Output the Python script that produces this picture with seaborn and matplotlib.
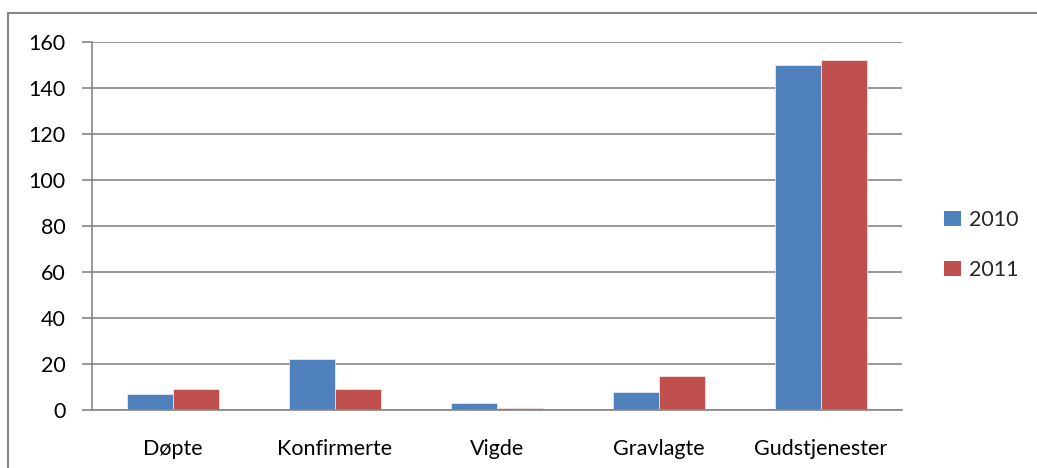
import matplotlib
matplotlib.use("Agg")
import matplotlib.pyplot as plt
import numpy as np
import pandas as pd
import seaborn as sns
from matplotlib.lines import Line2D
from matplotlib.patches import Patch

# data
categories = ["Døpte", "Konfirmerte", "Vigde", "Gravlagte", "Gudstjenester"]
years = ["2010", "2011"]
values_2010 = [7, 22, 3, 8, 150]
values_2011 = [9, 9, 1, 15, 152]
y_ticks = [0, 20, 40, 60, 80, 100, 120, 140, 160]

colors = ["#4F81BD", "#C0504D"]
grid_color = "#868686"
fsize = 15.5

df = pd.DataFrame({
    "kategori": categories * 2,
    "aar": [years[0]] * len(categories) + [years[1]] * len(categories),
    "antall": values_2010 + values_2011,
})

sns.set_theme(style="white")
plt.rcParams["font.family"] = ["Lato", "DejaVu Sans"]

W, H = 1037, 468
fig = plt.figure(figsize=(W / 100, H / 100), dpi=100)
ax = fig.add_axes([92 / W, (H - 410) / H, (902 - 92) / W, (410 - 42) / H])

sns.barplot(data=df, x="kategori", y="antall", hue="aar", palette=colors,
            width=0.568, gap=0, saturation=1, legend=False, ax=ax,
            edgecolor="white", linewidth=0.4)

ax.set_ylim(0, 160)
ax.set_xlim(-0.5, len(categories) - 0.5)
ax.set_yticks(y_ticks)
ax.set_yticklabels([str(t) for t in y_ticks], fontsize=fsize, color="black")
ax.yaxis.grid(True, color=grid_color, linewidth=1.2)
ax.set_axisbelow(True)

# category labels centred, tick marks on the boundaries
ax.set_xticks(range(len(categories)))
ax.set_xticklabels(categories, fontsize=fsize, color="black")
ax.set_xticks(np.arange(-0.5, len(categories)), minor=True)
ax.tick_params(axis="x", which="major", length=0, pad=21)
ax.tick_params(axis="x", which="minor", length=7, width=1.2, color=grid_color, direction="out")
ax.tick_params(axis="y", length=7, width=1.2, color=grid_color, direction="out", pad=12, left=True)
ax.set_xlabel("")
ax.set_ylabel("")

for side in ["top", "right"]:
    ax.spines[side].set_visible(False)
for side in ["left", "bottom"]:
    ax.spines[side].set_color(grid_color)
    ax.spines[side].set_linewidth(1.2)

handles = [Patch(facecolor=c, edgecolor="none") for c in colors]
fig.legend(handles, years, loc="center left", bbox_to_anchor=(925 / W, 1 - 245 / H),
           frameon=False, fontsize=fsize, handlelength=0.75, handleheight=0.75,
           handletextpad=0.4, labelspacing=1.4)

# chart-area frame (top and left edges visible)
fig.add_artist(Line2D([8 / W, 1.0], [1 - 13 / H, 1 - 13 / H], color=grid_color, linewidth=1.5))
fig.add_artist(Line2D([8 / W, 8 / W], [0.0, 1 - 13 / H], color=grid_color, linewidth=1.5))

fig.savefig("out.png", dpi=100)
